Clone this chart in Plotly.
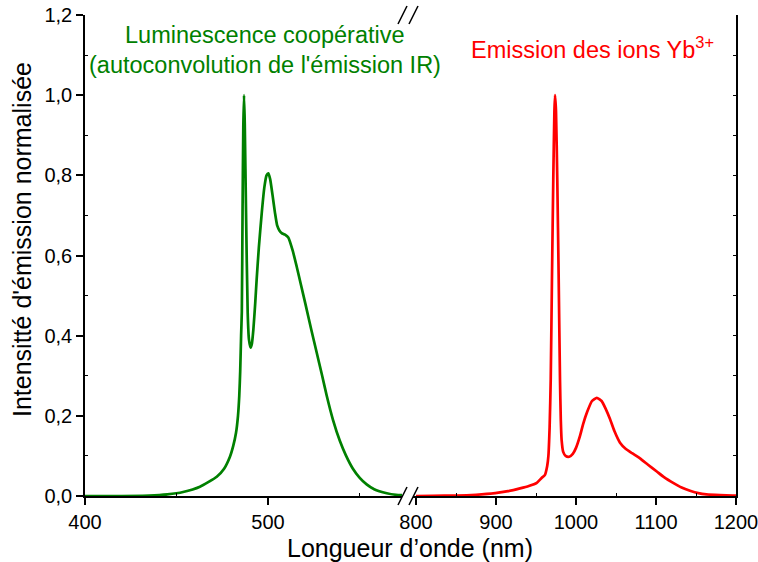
import plotly.graph_objects as go

# Cooperative luminescence (visible), wavelength in nm and normalised intensity
green_nm = [400, 420, 435, 445, 453.6, 462.8, 472, 476, 479.2, 481, 482.5, 483.6,
            484.3, 484.8, 485.3, 485.7, 486.1, 486.5, 486.9, 487.3, 488, 488.9,
            489.6, 490.5, 491.2, 492, 493, 493.8, 495, 496.6, 498, 499.2, 500.2,
            501.2, 502.5, 503.8, 505, 506.3, 507.5, 509.3, 511.1, 513.5, 515.7,
            518, 520.5, 523.5, 526.6, 529.5, 532.1, 535.5, 539.3, 542.5, 546.4,
            550, 553.9, 558, 564.9, 570, 573.8]
green_int = [0, 0, 0.001, 0.004, 0.01, 0.023, 0.048, 0.068, 0.098, 0.125, 0.157, 0.2,
             0.25, 0.31, 0.40, 0.46, 0.71, 0.92, 1.0, 0.93, 0.707, 0.457,
             0.39, 0.37, 0.38, 0.415, 0.48, 0.54, 0.62, 0.707, 0.77, 0.80, 0.805,
             0.79, 0.75, 0.707, 0.675, 0.662, 0.656, 0.652, 0.645, 0.612, 0.572,
             0.527, 0.478, 0.418, 0.358, 0.302, 0.25, 0.19, 0.137, 0.102, 0.068,
             0.046, 0.029, 0.017, 0.007, 0.003, 0.002]

# Yb3+ emission (near infrared)
red_nm = [800, 820, 851, 875, 899, 915, 930, 941, 951, 957, 961, 964, 965.5, 967,
          968.4, 970, 971.6, 973, 973.8, 975, 976.6, 978.3, 980, 981, 982, 984,
          987, 991.6, 996, 1000, 1005, 1009, 1014, 1020, 1026, 1032, 1037, 1042.5,
          1048, 1055, 1062, 1070, 1080, 1090, 1101, 1110, 1122, 1132, 1142.5,
          1153, 1163, 1180, 1196, 1200]
red_int = [0, 0.0005, 0.001, 0.003, 0.007, 0.012, 0.019, 0.025, 0.033, 0.045, 0.052,
           0.075, 0.10, 0.17, 0.29, 0.55, 0.79, 0.96, 1.0, 0.96, 0.79, 0.55, 0.29,
           0.19, 0.14, 0.11, 0.10, 0.098, 0.105, 0.12, 0.15, 0.18, 0.21, 0.237,
           0.245, 0.237, 0.218, 0.192, 0.162, 0.133, 0.118, 0.107, 0.094, 0.078,
           0.061, 0.047, 0.032, 0.021, 0.013, 0.007, 0.004, 0.002, 0.001, 0.001]

left_ticks = [400, 500]
right_ticks = [800, 900, 1000, 1100, 1200]
y_ticks = [0, 0.2, 0.4, 0.6, 0.8, 1.0, 1.2]

W, H = 758, 562
ML, MR, MT, MB = 85, 22, 15, 66
PW, PH = W - ML - MR, H - MT - MB


def px(x):
    return (x - ML) / PW


def py(y):
    return (H - MB - y) / PH


FONT = "Liberation Sans, Arial, sans-serif"
GREEN = "#008000"
RED = "#ff0000"

fig = go.Figure()
fig.add_trace(go.Scatter(x=green_nm, y=green_int, mode="lines",
                         line=dict(color=GREEN, width=2.7, shape="spline", smoothing=0.5),
                         xaxis="x", yaxis="y", showlegend=False))
fig.add_trace(go.Scatter(x=red_nm, y=red_int, mode="lines",
                         line=dict(color=RED, width=2.7, shape="spline", smoothing=0.5),
                         xaxis="x2", yaxis="y2", showlegend=False))

left_dom = [0, px(402)]
right_dom = [px(413), 1]
left_rng = [400, 400 + (402 - 85) / 1.83]
right_rng = [800 - (416 - 413) / 0.8, 1200.001]

axis_common = dict(showline=True, linecolor="black", linewidth=1.5, showgrid=False,
                   zeroline=False, automargin=False, ticklabeloverflow="allow",
                   tickfont=dict(family=FONT, size=20, color="black"))
frame_common = dict(showticklabels=False, showline=True, linecolor="black",
                    linewidth=1.5, showgrid=False, zeroline=False, automargin=False,
                    ticks="inside", ticklen=3, tickcolor="black", tickwidth=1)

fig.update_layout(
    width=W, height=H,
    margin=dict(l=ML, r=MR, t=MT, b=MB, autoexpand=False),
    plot_bgcolor="white", paper_bgcolor="white",
    separators=", ",
    xaxis=dict(domain=left_dom, range=left_rng, anchor="y",
               tickmode="array", tickvals=left_ticks, ticks="outside", ticklen=7,
               tickwidth=1.5, tickcolor="black",
               minor=dict(tickmode="array", tickvals=[450, 550], ticks="inside",
                          ticklen=3, tickcolor="black", tickwidth=1),
               **axis_common),
    xaxis2=dict(domain=right_dom, range=right_rng, anchor="y2",
                tickmode="array", tickvals=right_ticks, ticks="outside", ticklen=7,
                tickwidth=1.5, tickcolor="black",
                minor=dict(tickmode="array", tickvals=[850, 950, 1050, 1150],
                           ticks="inside", ticklen=3, tickcolor="black", tickwidth=1),
                **axis_common),
    # top frame lines with small inner ticks
    xaxis3=dict(domain=left_dom, range=left_rng, anchor="y", overlaying="x",
                side="top", tickmode="array", tickvals=[450, 500, 550], **frame_common),
    xaxis4=dict(domain=right_dom, range=right_rng, anchor="y2", overlaying="x2",
                side="top", tickmode="array",
                tickvals=[850, 900, 950, 1000, 1050, 1100, 1150], **frame_common),
    yaxis=dict(domain=[0, 1], range=[0, 1.2], anchor="x",
               tickmode="array", tickvals=y_ticks, tickformat=".1f",
               ticks="outside", ticklen=7, tickwidth=1.5, tickcolor="black",
               minor=dict(tickmode="array", tickvals=[0.1, 0.3, 0.5, 0.7, 0.9, 1.1],
                          ticks="inside", ticklen=3, tickcolor="black", tickwidth=1),
               **axis_common),
    yaxis2=dict(domain=[0, 1], range=[0, 1.2], anchor="x2", side="right",
                matches="y", tickmode="array",
                tickvals=[0.1, 0.2, 0.3, 0.4, 0.5, 0.6, 0.7, 0.8, 0.9, 1.0, 1.1],
                **frame_common),
)

# axis break marks on the bottom and top frame lines
for yp in (496, 15):
    for xc in (402.5, 413.5):
        fig.add_shape(type="line", xref="paper", yref="paper",
                      x0=px(xc - 4.5), y0=py(yp + 9), x1=px(xc + 4.5), y1=py(yp - 9),
                      line=dict(color="black", width=1.5))

title_font = dict(family=FONT, size=25, color="black")
fig.add_annotation(text="Longueur d’onde (nm)", xref="paper", yref="paper",
                   x=px(410), y=py(548), xanchor="center", yanchor="middle",
                   showarrow=False, font=title_font)
fig.add_annotation(text="Intensitté d'émission normalisée", xref="paper", yref="paper",
                   x=px(22), y=py(240), xanchor="center", yanchor="middle",
                   textangle=-90, showarrow=False,
                   font=dict(family=FONT, size=25, color="black"))

label_font_size = 23.5
fig.add_annotation(text="Luminescence coopérative", xref="paper", yref="paper",
                   x=px(265), y=py(35), xanchor="center", yanchor="middle",
                   showarrow=False,
                   font=dict(family=FONT, size=label_font_size, color=GREEN))
fig.add_annotation(text="(autoconvolution de l'émission IR)", xref="paper", yref="paper",
                   x=px(265), y=py(65), xanchor="center", yanchor="middle",
                   showarrow=False,
                   font=dict(family=FONT, size=label_font_size, color=GREEN))
fig.add_annotation(text="Emission des ions Yb<sup>3+</sup>", xref="paper", yref="paper",
                   x=px(592), y=py(48), xanchor="center", yanchor="middle",
                   showarrow=False,
                   font=dict(family=FONT, size=label_font_size, color=RED))

fig.write_html("out.html")
